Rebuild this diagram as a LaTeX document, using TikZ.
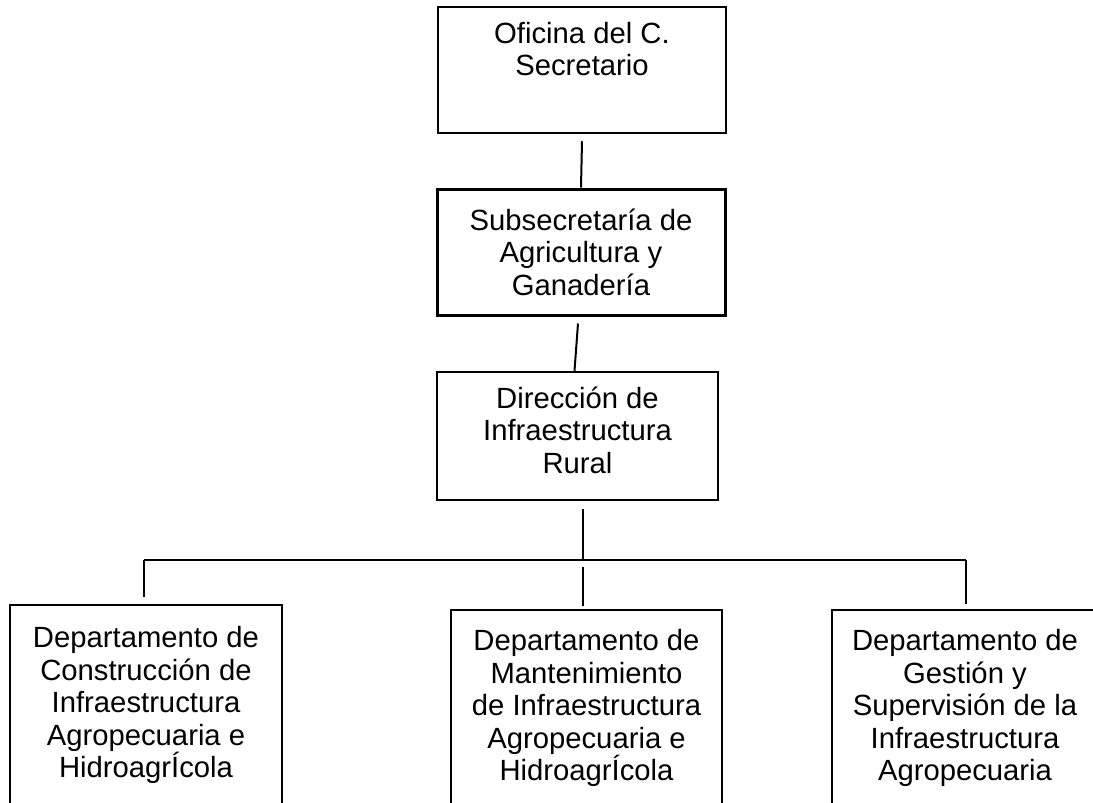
\documentclass[tikz,border=0pt]{standalone}
\usepackage{fontspec}
\setmainfont{Liberation Sans}
\begin{document}
\begin{tikzpicture}[x=1pt,y=-1pt,
  box/.style={draw,line width=2.5pt,inner sep=0pt,align=center,font=\fontsize{29.25}{32.5}\selectfont},
  conn/.style={line width=2pt}]
\useasboundingbox (0,0) rectangle (1093,803);
\clip (0,0) rectangle (1093,803);
\fill[white] (0,0) rectangle (1093,803);
\node[box,minimum width=288pt,minimum height=126pt] (b1) at (582,70) {Oficina del C.\\Secretario\\\strut};
\node[box,line width=3pt,minimum width=288pt,minimum height=126pt] (b2) at (581,252) {Subsecretaría de\\Agricultura y\\Ganadería};
\node[box,minimum width=281pt,minimum height=128pt] (b3) at (577.5,436) {Dirección de\\Infraestructura\\Rural\rule[-12pt]{0pt}{0pt}};
\node[box,minimum width=272pt,minimum height=200pt] (dl) at (146,705) {Departamento de\\Construcción de\\Infraestructura\\Agropecuaria e\\HidroagrÍcola};
\node[box,minimum width=271pt,minimum height=196pt] (dm) at (586.5,708) {Departamento de\\Mantenimiento\\de Infraestructura\\Agropecuaria e\\HidroagrÍcola\rule[-6pt]{0pt}{0pt}};
\node[box,minimum width=266pt,minimum height=196pt] (dr) at (965,708) {Departamento de\\Gestión y\\Supervisión de la\\Infraestructura\\Agropecuaria\rule[-6pt]{0pt}{0pt}};
\coordinate (jl) at (144,560);
\coordinate (jm) at (583,560);
\coordinate (jr) at (966,560);
\draw[conn] ([yshift=-7pt]b1.south) -- (b2.north);
\draw[conn] ([xshift=-3pt,yshift=-7pt]b2.south) -- ([xshift=-3pt]b3.north);
\draw[conn] ([xshift=5.5pt,yshift=-8pt]b3.south) -- (jm);
\draw[conn] (jl) -- (jr);
\draw[conn,shorten >=7pt] (jl) -- (jl |- dl.north);
\draw[conn,shorten <=7pt,shorten >=3pt] (jm) -- (jm |- dm.north);
\draw[conn,shorten >=5pt] (jr) -- (jr |- dr.north);
\end{tikzpicture}
\end{document}
